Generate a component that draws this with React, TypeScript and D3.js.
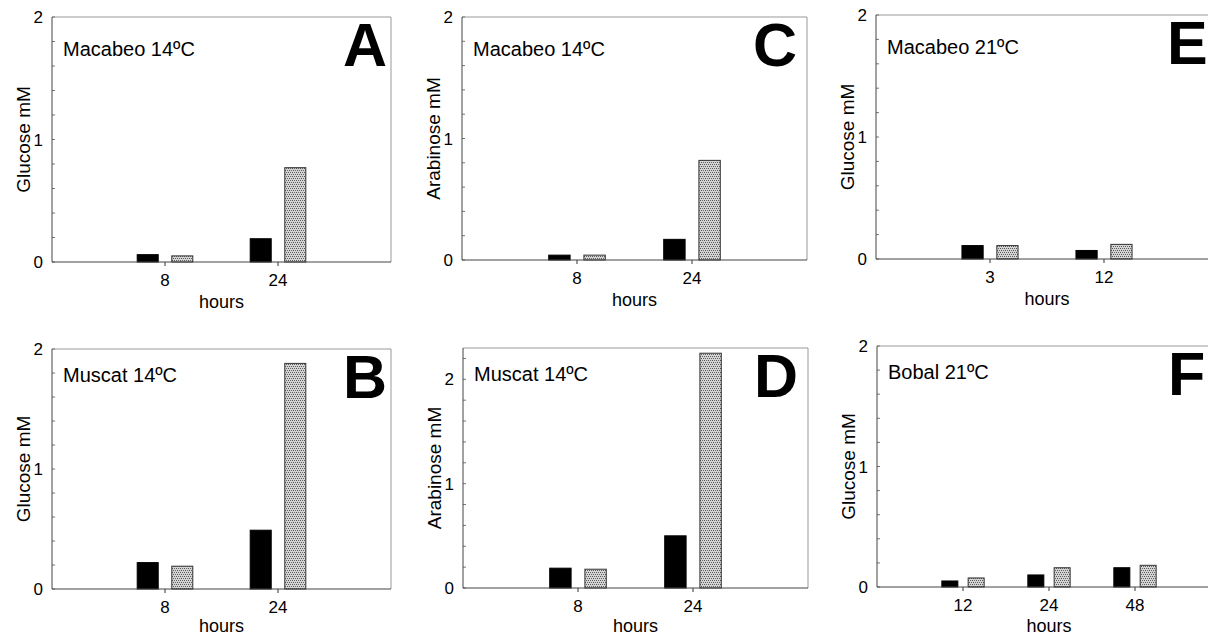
import React from "react";
import * as d3 from "d3";

// values (mM)
const hoursAB = ["8", "24"];
const hoursE = ["3", "12"];
const hoursF = ["12", "24", "48"];

const glucoseA_black = [0.06, 0.19];
const glucoseA_grey = [0.05, 0.77];
const glucoseB_black = [0.22, 0.49];
const glucoseB_grey = [0.19, 1.88];
const arabinoseC_black = [0.04, 0.17];
const arabinoseC_grey = [0.04, 0.82];
const arabinoseD_black = [0.19, 0.5];
const arabinoseD_grey = [0.18, 2.25];
const glucoseE_black = [0.11, 0.07];
const glucoseE_grey = [0.11, 0.12];
const glucoseF_black = [0.05, 0.1, 0.16];
const glucoseF_grey = [0.075, 0.16, 0.18];

const yTickLabels = [0, 1, 2];

const FONT = "'Liberation Sans', Arial, Helvetica, sans-serif";

const panels = [
  { letter: "A", title: "Macabeo 14ºC", ylabel: "Glucose mM", cats: hoursAB, black: glucoseA_black, grey: glucoseA_grey, ymax: 2, box: [52, 17, 391, 262] },
  { letter: "B", title: "Muscat 14ºC", ylabel: "Glucose mM", cats: hoursAB, black: glucoseB_black, grey: glucoseB_grey, ymax: 2, box: [52, 349, 391, 589] },
  { letter: "C", title: "Macabeo 14ºC", ylabel: "Arabinose mM", cats: hoursAB, black: arabinoseC_black, grey: arabinoseC_grey, ymax: 2, box: [462, 17, 807, 260] },
  { letter: "D", title: "Muscat 14ºC", ylabel: "Arabinose mM", cats: hoursAB, black: arabinoseD_black, grey: arabinoseD_grey, ymax: 2.3, box: [463, 348, 808, 588] },
  { letter: "E", title: "Macabeo 21ºC", ylabel: "Glucose mM", cats: hoursE, black: glucoseE_black, grey: glucoseE_grey, ymax: 2, box: [876, 15, 1218, 259] },
  { letter: "F", title: "Bobal 21ºC", ylabel: "Glucose mM", cats: hoursF, black: glucoseF_black, grey: glucoseF_grey, ymax: 2, box: [877, 346, 1221, 587] },
];

type P = (typeof panels)[number];

const Panel = ({ p }: { p: P }) => {
  const [x0, y0, x1, y1] = p.box;
  const x = d3.scalePoint<string>().domain(p.cats).range([x0, x1]).padding(1);
  const y = d3.scaleLinear().domain([0, p.ymax]).range([y1, y0]);
  const step = x.step();
  const bw = step * 0.186;
  const gap = step * 0.12;
  const minor = d3.range(0, p.ymax + 1e-9, 0.2);
  const first = x(p.cats[0])!;
  const last = x(p.cats[p.cats.length - 1])!;

  return (
    <g fontFamily={FONT}>
      {/* frame */}
      <line x1={x0} x2={x1} y1={y0} y2={y0} stroke="#999" />
      <line x1={x1} x2={x1} y1={y0} y2={y1} stroke="#999" />
      {p.cats.map((c, i) => {
        const cx = x(c)!;
        return (
          <g key={c}>
            <rect x={cx - gap / 2 - bw} y={y(p.black[i])} width={bw} height={y(0) - y(p.black[i])} fill="#000" stroke="#000" />
            <rect x={cx + gap / 2} y={y(p.grey[i])} width={bw} height={y(0) - y(p.grey[i])} fill="url(#stip)" stroke="#333" />
            <line x1={cx} x2={cx} y1={y1} y2={y1 + 4} stroke="#333" />
            <text x={cx} y={y1 + 24} fontSize={17} textAnchor="middle">{c}</text>
          </g>
        );
      })}
      {minor.map((v, i) => (
        <line key={i} x1={x0} x2={x0 + 3} y1={y(v)} y2={y(v)} stroke="#777" />
      ))}
      <line x1={x0} x2={x0} y1={y0} y2={y1} stroke="#444" />
      <line x1={x0} x2={x1} y1={y1} y2={y1} stroke="#444" />
      {yTickLabels.map((v) => (
        <text key={v} x={x0 - 9} y={y(v)} dy="0.36em" fontSize={17} textAnchor="end">{v}</text>
      ))}
      <text transform={`translate(${x0 - 22},${(y0 + y1) / 2}) rotate(-90)`} fontSize={19} textAnchor="middle">{p.ylabel}</text>
      <text x={(first + last) / 2} y={Math.min(y1 + 46, 632)} fontSize={18} textAnchor="middle">hours</text>
      <text x={x0 + 11} y={y0 + (y0 < 100 ? 39 : 33)} fontSize={20}>{p.title}</text>
      <text x={x0 + 291} y={y0 + 49} fontSize={61} fontWeight="bold">{p.letter}</text>
    </g>
  );
};

export default function App() {
  return (
    <svg width={1208} height={635} style={{ position: "absolute", left: 0, top: 0, background: "#fff" }}>
      <defs>
        <pattern id="stip" width={4} height={4} patternUnits="userSpaceOnUse">
          <rect width={4} height={4} fill="#d4d4d4" />
          <rect x={0} y={0} width={1} height={1} fill="#555" />
          <rect x={2} y={0} width={1} height={1} fill="#666" />
          <rect x={1} y={2} width={1} height={1} fill="#555" />
          <rect x={3} y={2} width={1} height={1} fill="#666" />
        </pattern>
      </defs>
      {panels.map((p) => (
        <Panel key={p.letter} p={p} />
      ))}
    </svg>
  );
}
